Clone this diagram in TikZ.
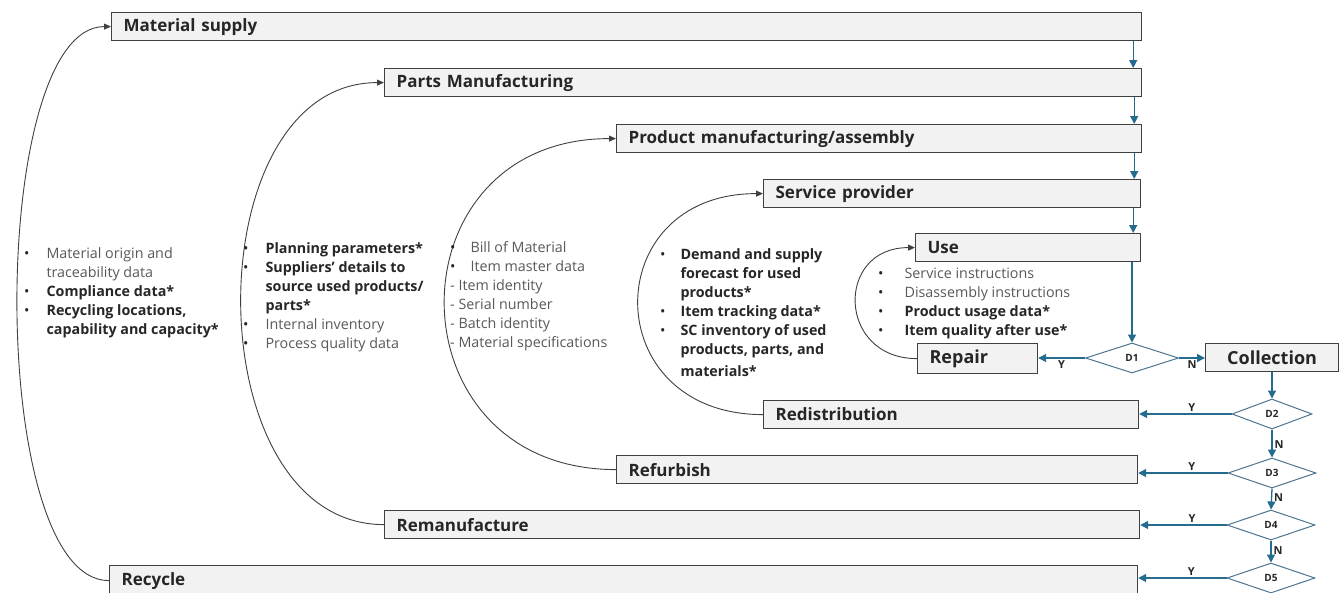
\documentclass[tikz,border=0pt]{standalone}
\usepackage{fontspec}
\setmainfont{Open Sans}
\usetikzlibrary{shapes.geometric,arrows.meta}

\definecolor{boxfill}{HTML}{F2F2F2}
\definecolor{boxline}{HTML}{404040}
\definecolor{flowblue}{HTML}{236C8E}
\definecolor{diamline}{HTML}{4D7590}
\definecolor{txtgray}{HTML}{595959}
\definecolor{txtdark}{HTML}{262626}

\newcommand{\hl}[1]{\textcolor{txtdark}{\textbf{#1}}}
\newcommand{\dotmark}{\textcolor{txtdark}{\textbullet}}

\tikzset{
  stage/.style={draw=boxline, line width=1.2pt, fill=boxfill, anchor=north west,
    minimum height=28pt, inner xsep=12pt, inner ysep=0pt, text width=#1,
    align=left, text=txtdark, font=\fontsize{17}{19}\selectfont\bfseries},
  decision/.style={diamond, draw=diamline, line width=1pt, fill=white, inner sep=0pt,
    minimum width=88pt, minimum height=30pt, text=txtdark,
    font=\fontsize{10}{12}\selectfont\bfseries},
  flow/.style={draw=flowblue, line width=1.3pt, -{Triangle[length=8pt,width=8pt]}},
  feedback/.style={draw=boxline, line width=0.9pt, -{Triangle[length=7pt,width=6pt]}},
  yn/.style={text=txtdark, font=\fontsize{11}{12}\selectfont\bfseries, inner sep=2pt},
  notes/.style={anchor=north west, inner sep=0pt, text=txtgray,
    font=\fontsize{14.3}{19}\selectfont},
}

\begin{document}
\begin{tikzpicture}[x=1pt,y=-1pt]
\fill[white] (0,0) rectangle (1343,592);
\useasboundingbox (0,0) rectangle (1343,592);

% forward chain of stages
\node[stage=1006pt] (ms)  at (111,12)  {Material supply};
\node[stage=733pt]  (pm)  at (384,68)  {Parts Manufacturing};
\node[stage=501pt]  (pa)  at (616,124) {Product manufacturing/assembly};
\node[stage=353pt]  (sp)  at (763,179) {Service provider};
\node[stage=201pt]  (use) at (915,233) {Use};

% end-of-use stages
\node[stage=96pt, minimum height=30pt, font=\fontsize{18}{20}\selectfont\bfseries]
     (repair) at (917,343) {Repair};
\node[stage=109pt, align=center, font=\fontsize{18}{20}\selectfont\bfseries]
     (coll) at (1205,343) {Collection};
\node[stage=351pt] (redis) at (763,400) {Redistribution};
\node[stage=497pt] (refb)  at (616,455) {Refurbish};
\node[stage=731pt] (reman) at (384,510) {Remanufacture};
\node[stage=1004pt, minimum height=30pt] (recy) at (109,565) {Recycle};

% decisions
\node[decision, minimum width=93pt] (d1) at (1132,358) {D1};
\node[decision, minimum width=80pt] (d2) at (1272,414) {D2};
\node[decision] (d3) at (1272,473) {D3};
\node[decision] (d4) at (1271,525) {D4};
\node[decision] (d5) at (1271,578) {D5};

% downward flow along the chain
\coordinate (a1) at ([xshift=-9pt]ms.south east);
\coordinate (a2) at ([xshift=-8pt]pm.south east);
\coordinate (a3) at ([xshift=-8pt]pa.south east);
\coordinate (a4) at ([xshift=-8pt]sp.south east);
\draw[flow] (a1) -- (a1 |- pm.north);
\draw[flow] (a2) -- (a2 |- pa.north);
\draw[flow] (a3) -- (a3 |- sp.north);
\draw[flow] (a4) -- (a4 |- use.north);
\draw[flow] (d1.north |- use.south) -- (d1.north);

% decision branches
\draw[flow] (d1.west) -- node[yn, below] {Y} (repair.east |- d1.west);
\draw[flow] (d1.east) -- node[yn, below] {N} (coll.west |- d1.east);
\draw[flow] (coll.south -| d2.north) -- (d2.north);
\draw[flow] (d2.west) -- node[yn, above, pos=0.43] {Y} (redis.east |- d2.west);
\draw[flow] (d2.south) -- node[yn, right, pos=0.55] {N} (d3.north);
\draw[flow] (d3.west) -- node[yn, above, pos=0.4] {Y} (refb.east |- d3.west);
\draw[flow] (d3.south) -- node[yn, right, pos=0.45] {N} (d4.north);
\draw[flow] (d4.west) -- node[yn, above, pos=0.4] {Y} (reman.east |- d4.west);
\draw[flow] (d4.south) -- node[yn, right, pos=0.45] {N} (d5.north);
\draw[flow] (d5.west) -- node[yn, above, pos=0.4] {Y} (recy.east |- d5.west);

% loops back to the matching forward stage
\draw[feedback] (recy.west)   .. controls +(-123,0) and +(-123,0) .. (ms.west);
\draw[feedback] (reman.west)  .. controls +(-190,0) and +(-190,0) .. (pm.west);
\draw[feedback] (refb.west)   .. controls +(-228,0) and +(-228,0) .. (pa.west);
\draw[feedback] (redis.west)  .. controls +(-166,0) and +(-166,0) .. (sp.west);
\draw[feedback] (repair.west) .. controls +(-80,0)  and +(-80,0)  .. (use.west);

% data carried by each loop
\node[notes] (n1) at (24,245) {%
\begin{tabular}{@{}l@{\hspace{17pt}}l@{}}
\dotmark & Material origin and\\
         & traceability data\\
\dotmark & \hl{Compliance data*}\\
\dotmark & \hl{Recycling locations,}\\
         & \hl{capability and capacity*}
\end{tabular}};

\node[notes] (n2) at (243,240) {%
\begin{tabular}{@{}l@{\hspace{17pt}}l@{}}
\dotmark & \hl{Planning parameters*}\\
\dotmark & \hl{Suppliers' details to}\\
         & \hl{source used products/}\\
         & \hl{parts*}\\
\dotmark & Internal inventory\\
\dotmark & Process quality data
\end{tabular}};

\node[notes] (n3) at (450,239) {%
\begin{tabular}{@{}l@{\hspace{15pt}}l@{}}
\dotmark & Bill of Material\\
\dotmark & Item master data\\
\multicolumn{2}{@{}l@{}}{- Item identity}\\
\multicolumn{2}{@{}l@{}}{- Serial number}\\
\multicolumn{2}{@{}l@{}}{- Batch identity}\\
\multicolumn{2}{@{}l@{}}{- Material specifications}
\end{tabular}};

\node[notes] (n4) at (660,246) {%
\begin{tabular}{@{}l@{\hspace{15pt}}l@{}}
\dotmark & \hl{Demand and supply}\\
         & \hl{forecast for used}\\
         & \hl{products*}\\
\dotmark & \hl{Item tracking data*}\\
\dotmark & \hl{SC inventory of used}\\
         & \hl{products, parts, and}\\[3pt]
         & \hl{materials*}
\end{tabular}};

\node[notes] (n5) at (878,265) {%
\begin{tabular}{@{}l@{\hspace{21pt}}l@{}}
\dotmark & Service instructions\\
\dotmark & Disassembly instructions\\
\dotmark & \hl{Product usage data*}\\
\dotmark & \hl{Item quality after use*}
\end{tabular}};
\end{tikzpicture}
\end{document}
